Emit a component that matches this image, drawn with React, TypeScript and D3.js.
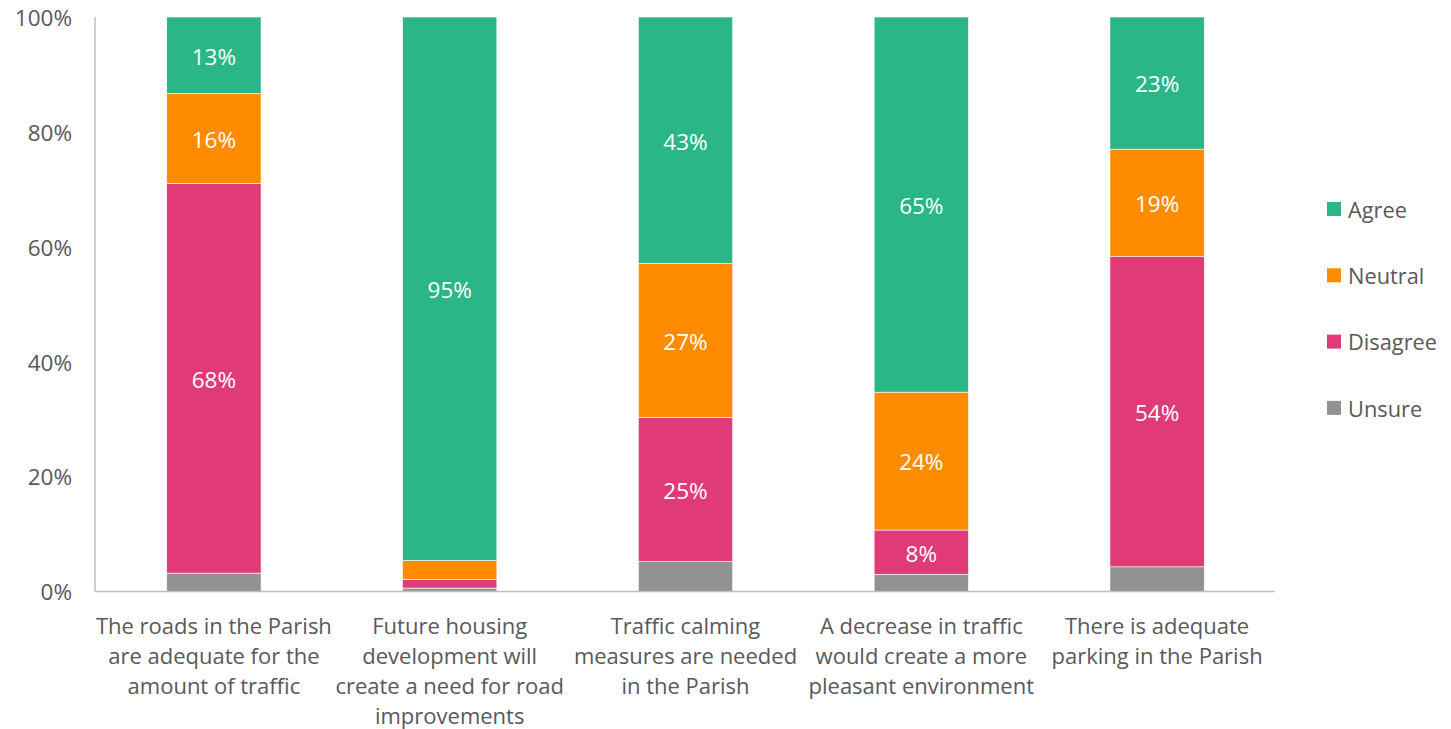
import React from "react";
import * as d3 from "d3";

const categories = [
  ["The roads in the Parish", "are adequate for the", "amount of traffic"],
  ["Future housing", "development will", "create a need for road", "improvements"],
  ["Traffic calming", "measures are needed", "in the Parish"],
  ["A decrease in traffic", "would create a more", "pleasant environment"],
  ["There is adequate", "parking in the Parish"],
];
const seriesNames = ["Unsure", "Disagree", "Neutral", "Agree"];
const unsure = [3.2, 0.6, 5.2, 3.0, 4.3];
const disagree = [67.8, 1.5, 25.1, 7.7, 54.0];
const neutral = [15.7, 3.3, 26.8, 24.0, 18.7];
const agree = [13.3, 94.6, 42.9, 65.3, 23.0];
const colors = ["#929292", "#E03A78", "#FF8C00", "#2BB687"];
const yTicks = [0, 20, 40, 60, 80, 100];
const legendOrder = ["Agree", "Neutral", "Disagree", "Unsure"];

const W = 1451, H = 729;
const left = 96, right = 1275, top = 17, bottom = 591.5;
const font = "'Open Sans', 'Noto Sans', sans-serif";
const textColor = "#595959";

export default function App() {
  const values = [unsure, disagree, neutral, agree];
  const x = d3.scaleBand<number>().domain(d3.range(categories.length)).range([left, right]).paddingInner(0.6).paddingOuter(0.3);
  const y = d3.scaleLinear().domain([0, 100]).range([bottom, top]);
  const rows = categories.map((_, i) => {
    const o: any = { i };
    seriesNames.forEach((s, k) => (o[s] = values[k][i]));
    return o;
  });
  const stacked = d3.stack<any>().keys(seriesNames)(rows);

  return (
    <svg width={W} height={H} style={{ position: "absolute", left: 0, top: 0, background: "#fff" }} fontFamily={font}>
      {yTicks.map((t) => (
        <text key={t} x={72} y={y(t) + 1} dy="0.35em" textAnchor="end" fontSize={22.5} fill={textColor}>
          {t}%
        </text>
      ))}
      {stacked.map((layer, k) => (
        <g key={layer.key}>
          {layer.map((d, i) => {
            const y0 = y(d[0]), y1 = y(d[1]);
            const v = d[1] - d[0];
            return (
              <g key={i}>
                <rect x={x(i)} y={y1} width={x.bandwidth()} height={y0 - y1} fill={colors[k]} stroke="#fff" strokeWidth={0.6} />
                {v >= 6 && (
                  <text x={x(i)! + x.bandwidth() / 2} y={(y0 + y1) / 2 + 1.5} dy="0.35em" textAnchor="middle" fontSize={22.5} fill="#fff">
                    {Math.round(v)}%
                  </text>
                )}
              </g>
            );
          })}
        </g>
      ))}
      <line x1={left - 1} x2={left - 1} y1={top} y2={bottom} stroke="#bfbfbf" strokeWidth={1.5} />
      <line x1={left - 1} x2={right} y1={bottom} y2={bottom} stroke="#bfbfbf" strokeWidth={1.5} />
      {categories.map((lines, i) => (
        <text key={i} textAnchor="middle" fontSize={22} fill={textColor}>
          {lines.map((l, j) => (
            <tspan key={j} x={x(i)! + x.bandwidth() / 2} y={626 + j * 30} dy="0.35em">
              {l}
            </tspan>
          ))}
        </text>
      ))}
      {legendOrder.map((name, j) => {
        const k = seriesNames.indexOf(name);
        const cy = 209 + j * 66.3;
        return (
          <g key={name}>
            <rect x={1327} y={cy - 7} width={14} height={14} fill={colors[k]} />
            <text x={1348} y={cy + 1} dy="0.35em" fontSize={21.8} fill={textColor}>
              {name}
            </text>
          </g>
        );
      })}
    </svg>
  );
}
